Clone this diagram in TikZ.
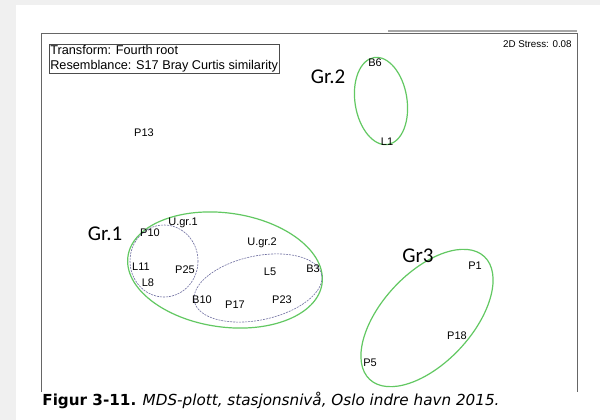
\documentclass[tikz,border=0pt]{standalone}
\usepackage{fontspec}
\setmainfont{Liberation Sans}
\newfontfamily\grfont{Carlito}
\newfontfamily\capfont{DejaVu Sans}
\definecolor{grgreen}{RGB}{98,200,98}
\definecolor{ugrblue}{RGB}{110,110,160}
\definecolor{pagegray}{RGB}{240,240,240}
\tikzset{every picture/.style={line width=0.75pt}}
\tikzset{
  stn/.style={inner sep=0.5pt, font=\fontsize{11}{12}\selectfont},
  grp/.style={inner sep=0.5pt, font=\grfont\fontsize{21}{22}\selectfont},
  grline/.style={draw=grgreen, line width=1.2pt},
  ugrline/.style={draw=ugrblue, dashed, dash pattern=on 2pt off 1pt, line width=0.6pt}
}

\begin{document}
\begin{tikzpicture}[x=1pt,y=1pt,yscale=-1,xscale=1]
%page
\fill [pagegray] (0,0) rectangle (600,420);
\fill [white] (16,5) rectangle (600,420);
\useasboundingbox (0,0) rectangle (600,420);

%frame of the plot
\draw [gray!70, line width=1.2pt] (388,31) -- (577,31);
\draw [gray!80!black, line width=0.6pt] (41,392) -- (41,33) -- (577,33) -- (577,392);

%Shape: legend box
\node (legend) [draw=gray!60!black, line width=0.6pt, anchor=north west, inner sep=1pt, align=left, font=\fontsize{12.7}{15}\selectfont] at (49,44) {Transform: Fourth root\\Resemblance: S17 Bray Curtis similarity};
\node (stress) [anchor=east, inner sep=0pt, font=\fontsize{9.8}{11}\selectfont] at (572,44) {2D Stress: 0.08};

%Shape: Ellipse Gr.2
\draw [grline] (381,101) ellipse [x radius=26, y radius=44, rotate=-9];
%Shape: Ellipse Gr.1
\draw [grline] (225,270) ellipse [x radius=98, y radius=57, rotate=8];
%Shape: Ellipse U.gr.1
\draw [ugrline] (164,261) ellipse [x radius=34, y radius=36];
%Shape: Ellipse U.gr.2
\draw [ugrline] (258,288) ellipse [x radius=65, y radius=32, rotate=-12];
%Shape: Ellipse Gr3
\draw [grline] (427,318) ellipse [x radius=84, y radius=45, rotate=-47];

% Text Node
\node (gr2) [grp] at (328,77) {Gr.2};
\node (gr1) [grp] at (105,234) {Gr.1};
\node (gr3) [grp] at (418,256) {Gr3};
\node (ugr1) [stn] at (183,223) {U.gr.1};
\node (ugr2) [stn] at (262,243) {U.gr.2};

% stations
\node (b6) [stn] at (375,63) {B6};
\node (l1) [stn] at (387,142) {L1};
\node (p13) [stn] at (144,133) {P13};
\node (p10) [stn] at (150,233) {P10};
\node (l11) [stn] at (141,267) {L11};
\node (l8) [stn] at (148,283) {L8};
\node (p25) [stn] at (185,270) {P25};
\node (l5) [stn] at (270,272) {L5};
\node (b3) [stn] at (313,269) {B3};
\node (b10) [stn] at (202,300) {B10};
\node (p17) [stn] at (235,305) {P17};
\node (p23) [stn] at (282,300) {P23};
\node (p1) [stn] at (475,266) {P1};
\node (p18) [stn] at (457,336) {P18};
\node (p5) [stn] at (370,363) {P5};

% caption
\node (caption) [anchor=west, inner sep=0pt, font=\capfont\fontsize{15.2}{16}\selectfont] at (42,400) {\textbf{Figur 3-11.} \textit{MDS-plott, stasjonsnivå, Oslo indre havn 2015.}};

\end{tikzpicture}
\end{document}
